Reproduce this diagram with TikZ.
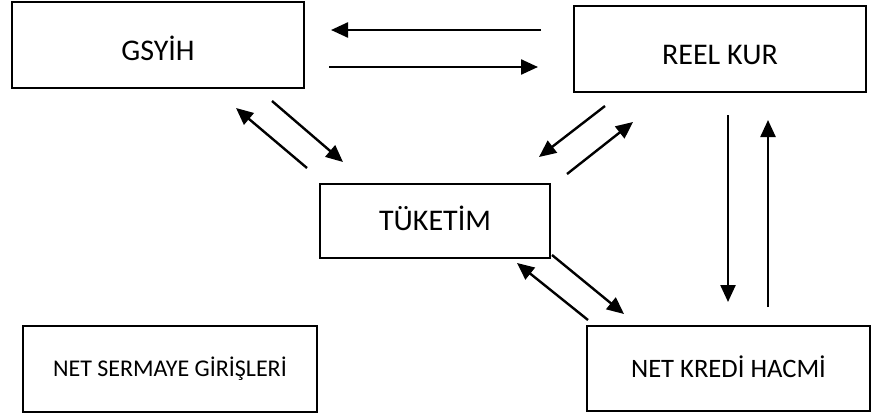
\documentclass[tikz,border=0pt]{standalone}
\usepackage{fontspec}
\setmainfont{Carlito}
\usetikzlibrary{arrows.meta}

\begin{document}
\begin{tikzpicture}[x=0.5pt,y=-0.5pt,
    box/.style={draw, line width=1pt, inner sep=0pt, text depth=0pt},
    arr/.style={-{Triangle[length=8.5pt,width=7.5pt]}, line width=1.2pt}]
\useasboundingbox (0,0) rectangle (871,418);

% boxes
\node[box, minimum width=146pt, minimum height=43pt, text height=15.5pt, font=\fontsize{15}{18}\selectfont] (gsyih) at (158,45) {GSYİH};
\node[box, minimum width=146pt, minimum height=43pt, text height=15.5pt, font=\fontsize{15}{18}\selectfont] (reel) at (720,49) {REEL KUR};
\node[box, minimum width=115pt, minimum height=37pt, text height=9.6pt, font=\fontsize{15}{18}\selectfont] (tuketim) at (435,221) {TÜKETİM};
\node[box, minimum width=147pt, minimum height=43pt, text height=7.7pt, font=\fontsize{12}{14}\selectfont] (sermaye) at (170,369) {NET SERMAYE GİRİŞLERİ};
\node[box, minimum width=141.5pt, minimum height=42.5pt, text height=8.6pt, font=\fontsize{13.3}{16}\selectfont] (kredi) at (728.5,368.5) {NET KREDİ HACMİ};

% arrows
\foreach \xa/\ya/\xb/\yb [count=\i] in {541/30/331/30, 329/67/538/67,
    272/101/343/162, 307/168/236/108, 605/106/539/157, 567/174/633/122,
    728/115/728/302, 768/307/768/120, 552/255/624/314, 588/320/517/263} {
    \coordinate (s\i) at (\xa,\ya);
    \coordinate (e\i) at (\xb,\yb);
    \draw[arr] (s\i) -- (e\i);
}
\end{tikzpicture}
\end{document}
